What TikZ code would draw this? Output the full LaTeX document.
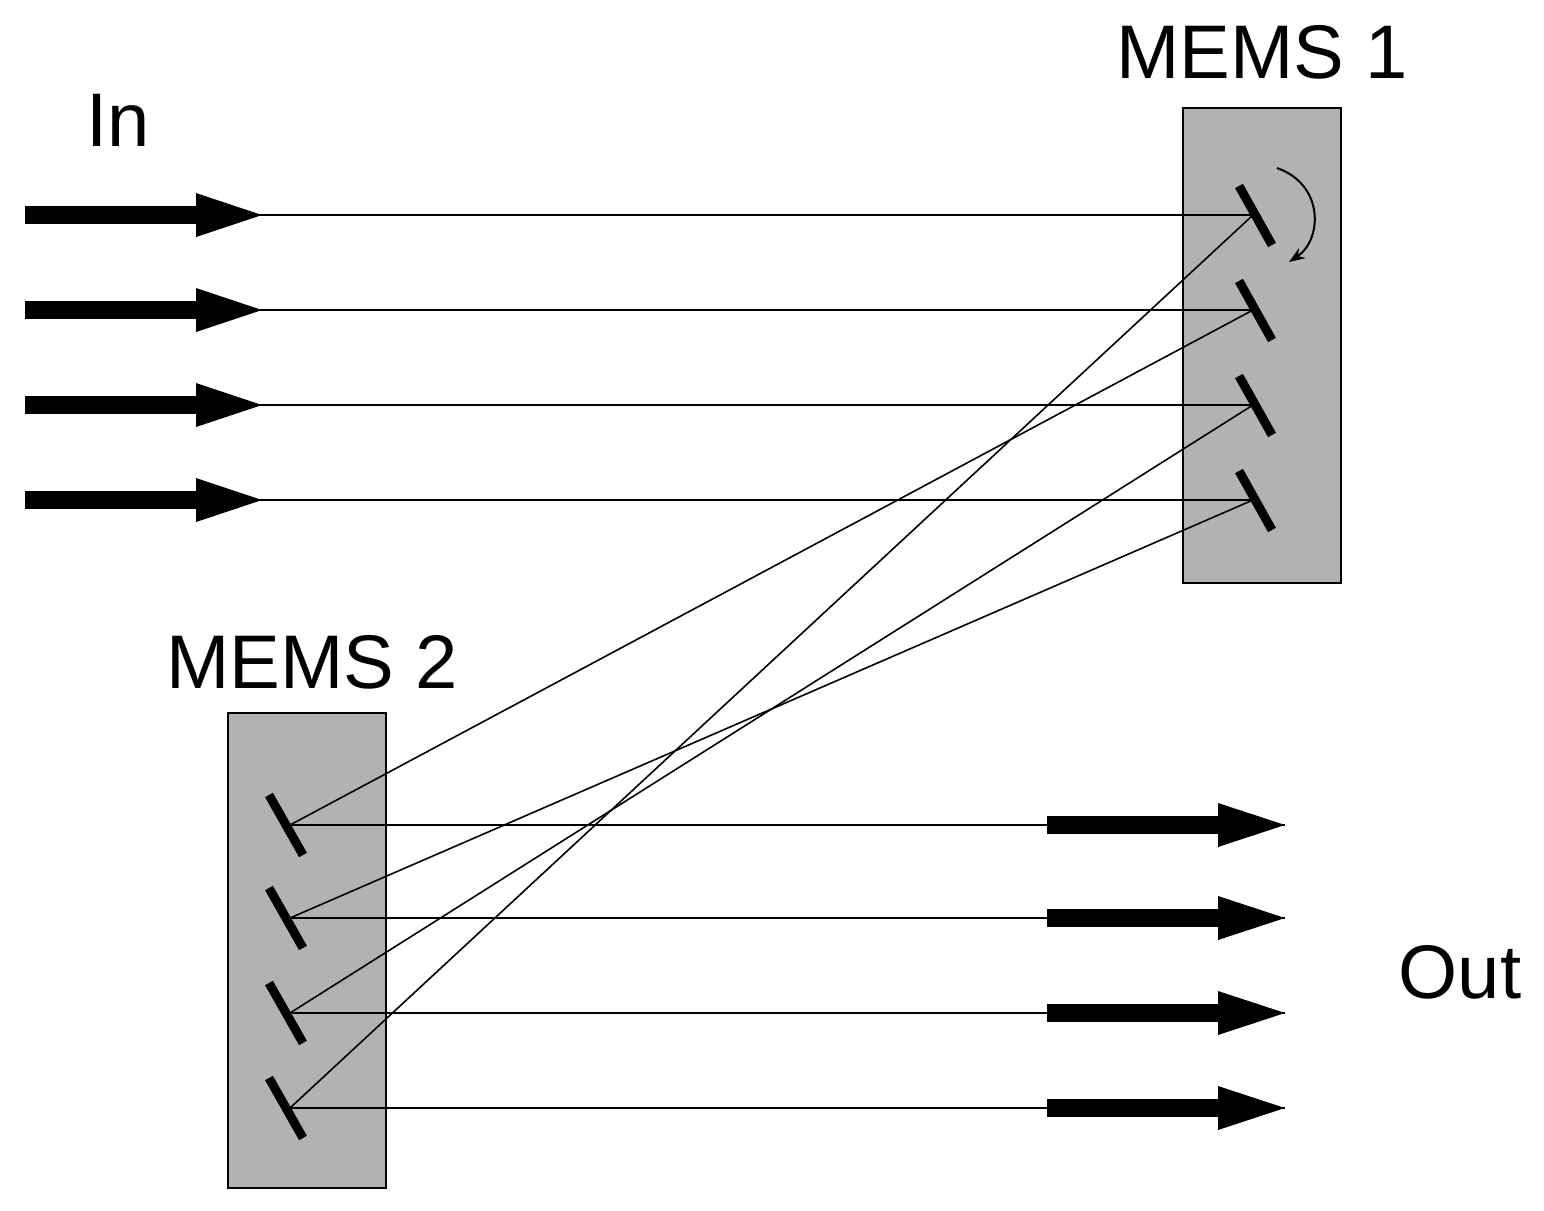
\documentclass[tikz,border=0pt]{standalone}
\usepackage{fontspec}
\setmainfont{Liberation Sans}
\usetikzlibrary{arrows.meta,calc}
\begin{document}
\begin{tikzpicture}[x=0.5pt,y=-0.5pt,
  beam/.style={line width=0.8pt},
  mirror/.style={line width=4.5pt},
  box/.style={fill=black!30,draw=black,line width=0.8pt},
  lbl/.style={font=\fontsize{38}{40}\selectfont,inner sep=0pt}]
\useasboundingbox (0,0) rectangle (1544,1211);
\draw[box] (1183,108) rectangle (1341,583);
\draw[box] (228,713) rectangle (386,1188);
\node[lbl] (in) at (118,120) {In};
\node[lbl] (m1) at (1262,52) {MEMS 1};
\node[lbl] (m2) at (312,662) {MEMS 2};
\node[lbl] (out) at (1460,972) {Out};
\foreach \i/\y in {1/215,2/310,3/405,4/500}{
  \coordinate (a\i) at (1253,\y);
  \coordinate (s\i) at (260,\y);
  \fill (25,\y-9) rectangle (200,\y+9);
  \fill (196,\y-22) -- (262,\y) -- (196,\y+22) -- cycle;
  \draw[beam] (s\i) -- (a\i);
  \draw[mirror] ($(a\i)+(-14,-29)$) -- ($(a\i)+(19,30)$);
}
\foreach \i/\y in {1/825,2/918,3/1013,4/1108}{
  \coordinate (b\i) at (290,\y);
  \coordinate (o\i) at (1285,\y);
  \draw[beam] (b\i) -- (o\i);
  \fill (1047,\y-9) rectangle (1222,\y+9);
  \fill (1218,\y-22) -- (1285,\y) -- (1218,\y+22) -- cycle;
  \draw[mirror] ($(b\i)+(-21,-30)$) -- ($(b\i)+(13,30)$);
}
\draw[beam] (a1) -- (b4);
\draw[beam] (a2) -- (b1);
\draw[beam] (a3) -- (b3);
\draw[beam] (a4) -- (b2);
\draw[line width=1pt,-{Stealth[length=8pt,width=6pt]}] (1277,168) .. controls (1325,185) and (1322,240) .. (1289,262);
\end{tikzpicture}
\end{document}
